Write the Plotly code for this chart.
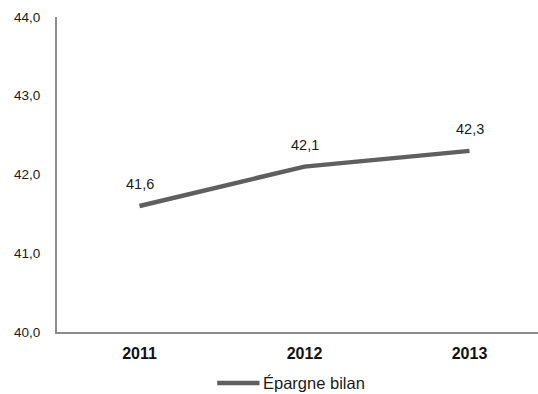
import plotly.graph_objects as go

years = ["2011", "2012", "2013"]
epargne_bilan = [41.6, 42.1, 42.3]
y_ticks = [40.0, 41.0, 42.0, 43.0, 44.0]
y_tick_labels = ["40,0", "41,0", "42,0", "43,0", "44,0"]
series_name = "Épargne bilan"

FONT = "Liberation Sans, Arial, sans-serif"
LINE_COLOR = "#5f5f5f"

fig = go.Figure()
fig.add_trace(go.Scatter(
    x=years,
    y=epargne_bilan,
    mode="lines",
    name=series_name,
    line=dict(color=LINE_COLOR, width=4.5),
    showlegend=False,
))

# value labels sitting above each point (category axis: position by index)
for i, v in enumerate(epargne_bilan):
    fig.add_annotation(
        x=i, y=v,
        xref="x", yref="y",
        text=f"{v:.1f}".replace(".", ","),
        showarrow=False,
        yshift=22,
        font=dict(family=FONT, size=14.5, color="#1a1a1a"),
    )

# legend key drawn below the plot area
fig.add_shape(
    type="line", xref="paper", yref="paper",
    x0=0.333, x1=0.421, y0=-0.162, y1=-0.162,
    line=dict(color=LINE_COLOR, width=4.5),
)
fig.add_annotation(
    x=0.425, y=-0.162, xref="paper", yref="paper",
    xanchor="left", yanchor="middle",
    text=series_name, showarrow=False,
    font=dict(family=FONT, size=16.5, color="#1a1a1a"),
)

fig.update_layout(
    width=538,
    height=394,
    margin=dict(l=57, r=0, t=17, b=62, autoexpand=False),
    paper_bgcolor="white",
    plot_bgcolor="white",
    separators=", ",
    font=dict(family=FONT, color="#1a1a1a"),
    showlegend=False,
    xaxis=dict(
        type="category",
        range=[-0.5, 2.415],
        showgrid=False,
        showline=True,
        linecolor="#8c8c8c",
        linewidth=2,
        ticks="",
        tickfont=dict(size=16, color="#111111", family=FONT, weight="bold"),
        ticklabelstandoff=6,
    ),
    yaxis=dict(
        range=[40, 44],
        tickvals=y_ticks,
        ticktext=y_tick_labels,
        showgrid=False,
        zeroline=False,
        showline=True,
        linecolor="#8c8c8c",
        linewidth=2,
        ticks="",
        tickfont=dict(size=13.5, color="#1a1a1a"),
        ticklabelstandoff=12,
    ),
)

fig.write_html("out.html")
